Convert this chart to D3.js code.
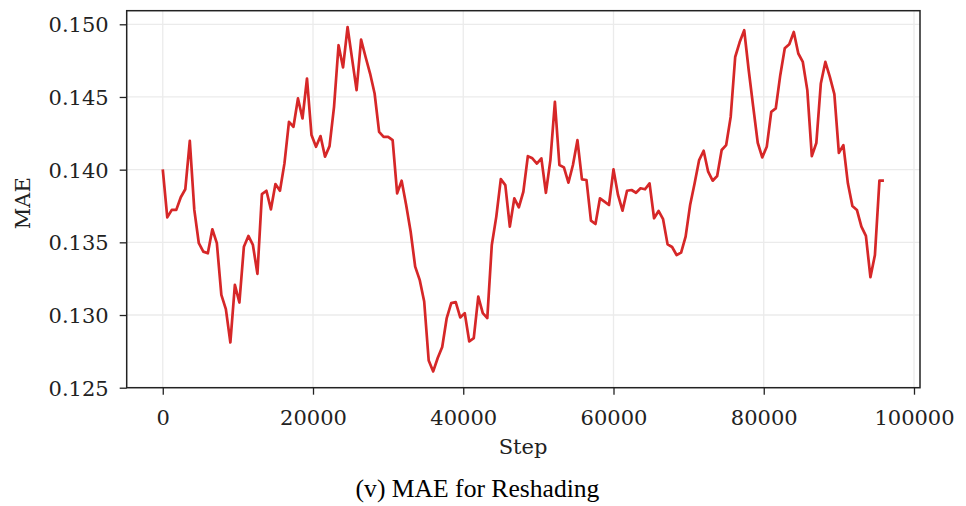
<!DOCTYPE html>
<html>
<head>
<meta charset="utf-8">
<script src="https://cdn.jsdelivr.net/npm/d3@7"></script>
<style>
  body { margin: 0; background: #fff; }
  svg { display: block; }
  .tick text { font-family: "DejaVu Serif", serif; font-size: 21px; fill: #222; }
  .tick line { stroke: #222; stroke-width: 1.3; }
</style>
</head>
<body>
<main></main>
<script>
// training steps, one eval every 600 steps
const steps = [
  0, 600, 1200, 1800, 2400, 3000, 3600, 4200, 4800, 5400,
  6000, 6600, 7200, 7800, 8400, 9000, 9600, 10200, 10800, 11400,
  12000, 12600, 13200, 13800, 14400, 15000, 15600, 16200, 16800, 17400,
  18000, 18600, 19200, 19800, 20400, 21000, 21600, 22200, 22800, 23400,
  24000, 24600, 25200, 25800, 26400, 27000, 27600, 28200, 28800, 29400,
  30000, 30600, 31200, 31800, 32400, 33000, 33600, 34200, 34800, 35400,
  36000, 36600, 37200, 37800, 38400, 39000, 39600, 40200, 40800, 41400,
  42000, 42600, 43200, 43800, 44400, 45000, 45600, 46200, 46800, 47400,
  48000, 48600, 49200, 49800, 50400, 51000, 51600, 52200, 52800, 53400,
  54000, 54600, 55200, 55800, 56400, 57000, 57600, 58200, 58800, 59400,
  60000, 60600, 61200, 61800, 62400, 63000, 63600, 64200, 64800, 65400,
  66000, 66600, 67200, 67800, 68400, 69000, 69600, 70200, 70800, 71400,
  72000, 72600, 73200, 73800, 74400, 75000, 75600, 76200, 76800, 77400,
  78000, 78600, 79200, 79800, 80400, 81000, 81600, 82200, 82800, 83400,
  84000, 84600, 85200, 85800, 86400, 87000, 87600, 88200, 88800, 89400,
  90000, 90600, 91200, 91800, 92400, 93000, 93600, 94200, 94800, 95400,
  96000
];

const mae = [
  0.14002, 0.13672, 0.13723, 0.13723, 0.13810, 0.13865, 0.14198, 0.13723, 0.13494, 0.13436,
  0.13425, 0.13590, 0.13494, 0.13139, 0.13041, 0.12811, 0.13207, 0.13086, 0.13470, 0.13544,
  0.13482, 0.13283, 0.13832, 0.13855, 0.13727, 0.13901, 0.13855, 0.14043, 0.14329, 0.14295,
  0.14490, 0.14352, 0.14627, 0.14238, 0.14157, 0.14231, 0.14089, 0.14162, 0.14432, 0.14856,
  0.14703, 0.14981, 0.14764, 0.14547, 0.14895, 0.14775, 0.14661, 0.14524, 0.14260, 0.14226,
  0.14226, 0.14203, 0.13837, 0.13924, 0.13757, 0.13573, 0.13333, 0.13242, 0.13093, 0.12687,
  0.12612, 0.12704, 0.12780, 0.12979, 0.13082, 0.13089, 0.12983, 0.13013, 0.12818, 0.12841,
  0.13127, 0.13013, 0.12979, 0.13482, 0.13677, 0.13935, 0.13894, 0.13608, 0.13803, 0.13741,
  0.13848, 0.14093, 0.14078, 0.14042, 0.14078, 0.13841, 0.14066, 0.14466, 0.14032, 0.14016,
  0.13910, 0.14032, 0.14203, 0.13933, 0.13929, 0.13649, 0.13626, 0.13803, 0.13780, 0.13757,
  0.14002, 0.13826, 0.13718, 0.13855, 0.13860, 0.13841, 0.13872, 0.13865, 0.13906, 0.13666,
  0.13716, 0.13659, 0.13486, 0.13468, 0.13413, 0.13429, 0.13539, 0.13757, 0.13906, 0.14066,
  0.14130, 0.13986, 0.13924, 0.13956, 0.14135, 0.14169, 0.14363, 0.14775, 0.14878, 0.14959,
  0.14684, 0.14432, 0.14185, 0.14084, 0.14157, 0.14398, 0.14421, 0.14650, 0.14835, 0.14863,
  0.14947, 0.14799, 0.14741, 0.14547, 0.14093, 0.14183, 0.14593, 0.14741, 0.14638, 0.14519,
  0.14116, 0.14169, 0.13906, 0.13750, 0.13723, 0.13608, 0.13544, 0.13260, 0.13413, 0.13924,
  0.13924
];

const xTicks = [0, 20000, 40000, 60000, 80000, 100000];
const yTicks = [0.125, 0.130, 0.135, 0.140, 0.145, 0.150];

const svgSize = { width: 966, height: 506 };
const plot = { left: 126.7, right: 920, top: 10.7, bottom: 387.7 };

const svg = d3.select("main")
    .append("svg")
    .attr("width", svgSize.width)
    .attr("height", svgSize.height);

// matplotlib style 5% margins on x
const xPad = (d3.max(steps) - d3.min(steps)) * 0.05;
const xScale = d3.scaleLinear()
    .domain([d3.min(steps) - xPad, d3.max(steps) + xPad])
    .range([plot.left, plot.right]);

const yScale = d3.scaleLinear()
    .domain([0.12500, 0.150935])
    .range([plot.bottom, plot.top]);

// grid
const grid = svg.append("g").attr("class", "grid");
grid.selectAll("line.gx")
    .data(xTicks.filter(d => xScale(d) < plot.right))
    .enter().append("line")
    .attr("x1", d => xScale(d)).attr("x2", d => xScale(d))
    .attr("y1", plot.top).attr("y2", plot.bottom)
    .attr("stroke", "#ebebeb").attr("stroke-width", 1.3);
grid.selectAll("line.gy")
    .data(yTicks)
    .enter().append("line")
    .attr("x1", plot.left).attr("x2", plot.right)
    .attr("y1", d => yScale(d)).attr("y2", d => yScale(d))
    .attr("stroke", "#ebebeb").attr("stroke-width", 1.3);

// the line
const line = d3.line()
    .x((d, i) => xScale(steps[i]))
    .y(d => yScale(d));

svg.append("path")
    .datum(mae)
    .attr("d", line)
    .attr("fill", "none")
    .attr("stroke", "#d62728")
    .attr("stroke-width", 2.7)
    .attr("stroke-linejoin", "round");

// axes
const xAxis = svg.append("g")
    .attr("transform", `translate(0, ${plot.bottom})`)
    .call(d3.axisBottom(xScale).tickValues(xTicks).tickSize(7).tickFormat(d3.format("d")));
xAxis.select(".domain").remove();
xAxis.selectAll("text").attr("y", 37).attr("dy", null);

const yAxis = svg.append("g")
    .attr("transform", `translate(${plot.left}, 0)`)
    .call(d3.axisLeft(yScale).tickValues(yTicks).tickSize(7).tickFormat(d3.format(".3f")));
yAxis.select(".domain").remove();
yAxis.selectAll("text").attr("x", -18).attr("dy", "0.36em");

// frame
svg.append("rect")
    .attr("x", plot.left).attr("y", plot.top)
    .attr("width", plot.right - plot.left)
    .attr("height", plot.bottom - plot.top)
    .attr("fill", "none")
    .attr("stroke", "#222")
    .attr("stroke-width", 1.5);

// labels
svg.append("text")
    .attr("x", 523).attr("y", 454)
    .attr("text-anchor", "middle")
    .attr("font-family", "DejaVu Serif")
    .attr("font-size", 21)
    .attr("fill", "#222")
    .text("Step");

svg.append("text")
    .attr("transform", `translate(30, ${(plot.top + plot.bottom) / 2 + 4}) rotate(-90)`)
    .attr("text-anchor", "middle")
    .attr("font-family", "DejaVu Serif")
    .attr("font-size", 21)
    .attr("fill", "#222")
    .text("MAE");

// caption under the figure, Times-like
svg.append("text")
    .attr("x", 477.5).attr("y", 497)
    .attr("text-anchor", "middle")
    .attr("font-family", "Liberation Serif")
    .attr("font-size", 25.6)
    .attr("fill", "#000")
    .text("(v) MAE for Reshading");
</script>
</body>
</html>
